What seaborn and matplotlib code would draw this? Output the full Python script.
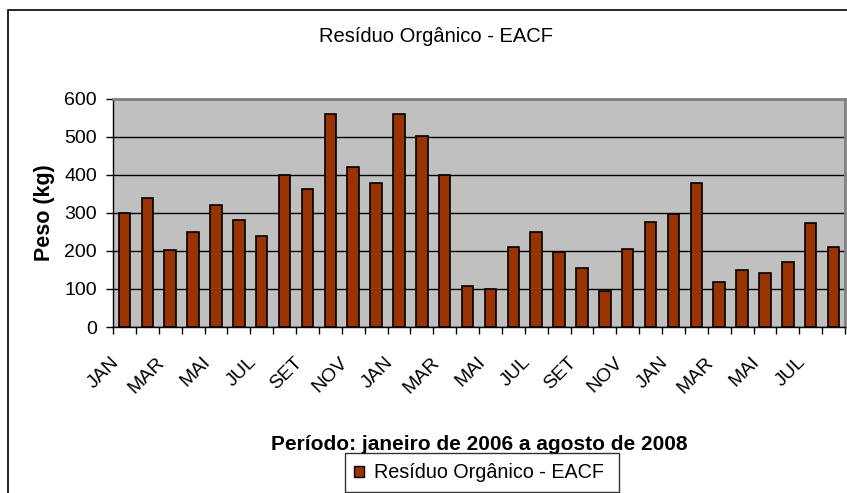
import pandas as pd
import numpy as np
import seaborn as sns
import matplotlib.pyplot as plt
import matplotlib.transforms as mtransforms
from matplotlib.patches import Rectangle, Patch

# Dados: janeiro de 2006 a agosto de 2008
meses = ["JAN", "FEV", "MAR", "ABR", "MAI", "JUN", "JUL", "AGO", "SET", "OUT", "NOV", "DEZ"]
anos = ["06"] * 12 + ["07"] * 12 + ["08"] * 8
peso_kg = [300, 338, 201, 250, 320, 280, 239, 399, 362, 560, 420, 379,
           560, 502, 399, 108, 99, 211, 250, 198, 156, 95, 206, 276,
           297, 379, 119, 149, 141, 170, 272, 211]

periodo = [f"{meses[i % 12]}/{a}" for i, a in enumerate(anos)]
rotulos = [meses[i % 12] for i in range(len(periodo))]

df = pd.DataFrame({"periodo": periodo, "peso": peso_kg})

sns.set_style("white")
plt.rcParams["font.family"] = ["Liberation Sans", "DejaVu Sans"]
plt.rcParams.update({"text.color": "black", "axes.labelcolor": "black",
                     "xtick.color": "black", "ytick.color": "black"})

fig = plt.figure(figsize=(8.47, 4.93), dpi=100)
ax = fig.add_axes([113 / 847, 1 - 327 / 493, (845 - 113) / 847, (327 - 98.5) / 493])

cor = "#993300"
sns.barplot(data=df, x="periodo", y="peso", color=cor, width=0.5,
            edgecolor="black", linewidth=1.2, saturation=1, ax=ax)

ax.set_facecolor("#C0C0C0")
ax.set_ylim(0, 600)
ax.set_xlim(-0.5, len(periodo) - 0.5)
ax.set_yticks(range(0, 601, 100))
ax.yaxis.grid(True, color="black", linewidth=1)
ax.set_axisbelow(True)

# rótulos a cada dois meses, ticks entre categorias
pos = np.arange(0, len(periodo), 2)
ax.set_xticks(pos)
ax.set_xticklabels([rotulos[i] for i in pos], rotation=45, ha="right",
                   rotation_mode="anchor", fontsize=14)
ax.set_xticks(np.arange(-0.5, len(periodo), 1), minor=True)
ax.tick_params(axis="x", which="major", length=0, pad=12)
ax.tick_params(axis="x", which="minor", length=5, width=1, color="black", direction="out")
ax.tick_params(axis="y", length=5, width=1, color="black", direction="out", labelsize=14, pad=6.5)
ax.yaxis.set_ticks_position("left")
ax.xaxis.set_ticks_position("bottom")

desloc = mtransforms.ScaledTranslation(-14 / 100, -10 / 100, fig.dpi_scale_trans)
for lbl in ax.get_xticklabels():
    lbl.set_transform(lbl.get_transform() + desloc)

for lado in ["left", "bottom"]:
    ax.spines[lado].set_color("black")
    ax.spines[lado].set_linewidth(1)
for lado in ["top", "right"]:
    ax.spines[lado].set_color("#808080")
    ax.spines[lado].set_linewidth(2)

ax.set_ylabel("Peso (kg)", fontsize=15.5, fontweight="bold", labelpad=7)
ax.set_xlabel("")
fig.text(479 / 847, 1 - 445 / 493, "Período: janeiro de 2006 a agosto de 2008",
         ha="center", va="center", fontsize=15, fontweight="bold")
fig.text(436 / 847, 1 - 37 / 493, "Resíduo Orgânico - EACF", ha="center", va="center", fontsize=14.5)

# legenda
handle = Patch(facecolor=cor, edgecolor="black", linewidth=1)
leg = fig.legend(handles=[handle], labels=["Resíduo Orgânico - EACF "], loc="lower center",
                 bbox_to_anchor=(482 / 847, 1 / 493), fontsize=14.2, frameon=True, fancybox=False,
                 handlelength=0.5, handleheight=0.5, handletextpad=0.5, borderpad=0.5,
                 borderaxespad=0)
leg.get_frame().set_edgecolor("black")
leg.get_frame().set_linewidth(1)

# moldura do gráfico
fig.patches.append(Rectangle((8 / 847, -0.1), 1.0, 0.1 + 1 - 10 / 493,
                             transform=fig.transFigure, fill=False,
                             edgecolor="black", linewidth=1.2))

plt.savefig("out.png", dpi=100)
